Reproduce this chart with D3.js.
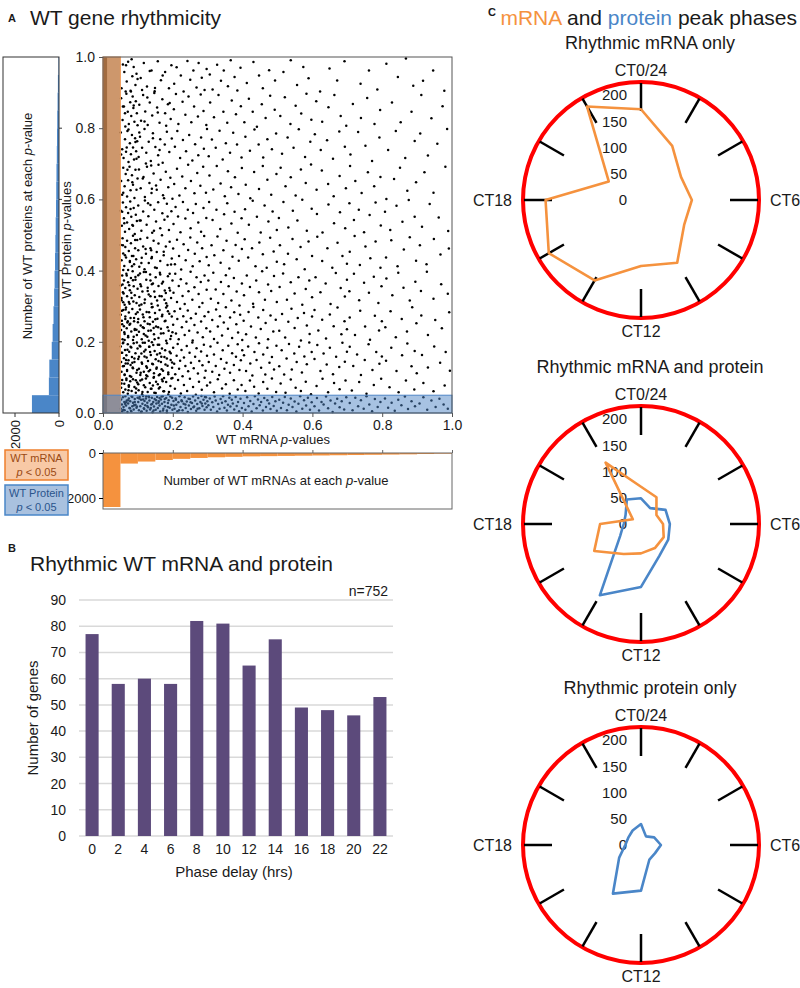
<!DOCTYPE html>
<html><head><meta charset="utf-8">
<script src="https://cdn.jsdelivr.net/npm/d3@7"></script>
<style>
body{margin:0;background:#fff;}
svg text{font-family:"Liberation Sans",Arial,Helvetica,sans-serif;fill:#1a1a1a;}
</style></head><body>
<svg id="c" width="800" height="988"></svg>
<script>
// ---------- DATA ----------
// Panel A scatter: flat pairs (WT mRNA p-value, WT protein p-value) in thousandths
const scatterPairs = [
53,912,61,958,68,931,72,987,79,905,84,946,88,972,93,921,57,979,96,953,65,903,82,994,
108,941,117,983,126,917,139,962,148,904,157,988,166,935,178,958,189,912,196,977,
204,925,211,971,223,948,231,903,242,989,250,936,259,962,268,914,274,983,283,942,291,907,297,966,
306,951,314,909,327,978,338,933,346,962,358,918,366,991,377,944,385,906,394,970,
412,927,431,986,447,948,458,912,476,963,493,934,517,958,538,991,556,921,574,972,589,940,
622,903,649,968,671,934,692,988,738,925,762,962,786,909,812,981,845,944,868,996,889,919,917,933,946,962,978,905,
52,884,56,823,60,861,64,805,67,897,71,846,74,812,78,873,81,834,85,889,87,857,90,818,94,876,97,842,99,808,
104,866,109,821,115,893,121,847,128,809,134,872,141,836,147,899,155,858,162,815,170,881,178,842,186,867,194,826,
203,853,209,896,216,812,228,874,236,838,245,889,253,817,261,861,272,833,280,895,288,848,296,809,
307,872,318,831,331,893,345,846,356,815,369,878,381,839,395,862,405,817,418,883,429,846,441,804,455,867,466,829,479,891,492,852,
508,834,521,887,537,812,552,863,568,841,583,897,597,824,611,876,628,818,646,859,663,893,681,834,697,807,
716,868,739,829,757,885,778,812,794,851,828,872,853,817,884,846,912,893,941,828,973,862,
51,788,55,741,59,716,63,769,66,734,70,792,73,705,77,758,80,727,83,781,86,746,89,712,92,772,95,735,98,763,
102,719,106,776,112,745,119,798,124,731,131,762,137,708,143,786,150,747,158,724,164,769,171,703,177,754,183,790,190,733,197,771,
206,748,213,792,221,716,229,767,238,735,247,781,256,709,264,755,273,724,281,774,289,742,298,798,
303,721,312,768,323,745,334,793,343,712,352,758,364,731,373,787,384,754,397,718,408,776,421,737,434,796,446,754,459,718,471,769,484,741,496,785,
513,728,529,774,546,745,561,797,579,719,594,762,607,783,624,739,642,766,659,714,677,791,693,748,
709,726,731,789,752,751,771,708,792,774,817,739,839,792,866,716,893,764,909,785,931,723,958,756,986,798,
52,652,55,613,58,689,62,637,65,671,69,608,72,654,76,692,79,626,83,668,86,641,90,604,93,683,96,627,99,659,
103,684,108,631,114,659,120,607,126,692,133,646,139,618,145,673,152,639,159,697,165,655,172,612,180,678,187,634,193,661,199,602,
204,643,212,686,219,611,227,664,236,631,244,697,252,652,262,617,270,674,279,638,287,692,295,619,
305,667,316,628,326,694,337,645,349,609,358,679,367,634,378,662,388,615,398,688,409,641,422,603,433,677,447,629,458,694,471,655,482,613,497,671,
509,689,523,637,538,662,552,611,567,684,581,646,596,698,612,627,627,681,645,643,661,609,678,666,696,631,
708,694,723,652,741,618,759,676,777,637,795,663,812,601,834,657,851,689,872,624,897,648,921,676,947,619,981,692,
51,568,54,526,57,591,60,547,63,509,66,578,69,535,72,562,75,517,78,594,81,551,84,528,88,576,91,503,94,557,97,539,
101,583,105,541,110,512,115,566,120,597,125,529,130,553,136,584,141,506,147,571,152,538,158,592,164,519,170,561,176,543,183,588,189,514,196,567,
202,531,208,579,215,552,222,508,229,593,236,546,243,571,251,519,258,562,266,587,273,535,281,509,288,576,296,548,
304,593,314,542,325,571,336,517,347,558,356,589,368,532,377,565,386,506,397,547,407,572,418,529,429,596,441,551,452,507,463,583,474,538,486,566,498,514,
504,548,517,593,531,521,544,568,557,541,571,599,584,512,598,574,613,559,629,507,646,586,662,533,679,564,694,519,
706,589,719,542,733,571,748,508,764,556,781,591,796,527,808,565,823,514,841,582,858,537,876,598,893,551,914,523,936,587,962,549,989,511,
51,472,53,429,56,491,58,448,61,413,64,466,66,437,69,484,72,402,74,455,77,424,80,477,83,441,86,498,89,418,92,463,95,432,98,486,
101,457,104,411,107,489,111,436,115,468,119,404,123,447,127,492,131,421,136,463,140,438,145,484,149,409,154,452,159,476,164,427,169,499,174,443,180,468,185,416,191,481,197,434,
201,462,206,418,212,487,218,441,224,403,231,474,237,429,244,458,250,493,257,412,263,447,270,479,277,426,284,463,290,497,297,438,
303,415,311,471,319,443,328,496,337,422,345,457,354,484,362,406,371,439,380,472,389,428,398,461,
406,488,416,437,427,463,437,412,448,479,458,446,469,408,479,492,489,454,498,425,
507,471,519,418,530,447,543,489,555,432,566,466,578,404,589,482,599,441,614,495,628,427,643,463,657,408,672,478,686,441,699,419,
707,453,721,497,736,416,752,468,766,435,781,482,795,408,811,437,826,485,844,412,862,459,879,494,897,428,908,471,927,418,948,489,967,445,991,462,
51,358,53,317,55,386,57,339,60,372,62,304,64,351,67,391,69,328,72,367,74,312,77,345,80,379,82,323,85,398,88,356,91,331,93,374,96,309,99,349,
101,387,104,326,107,362,110,305,113,341,117,396,120,319,124,374,128,352,131,333,135,389,139,307,143,364,147,341,151,381,155,316,159,357,163,394,168,328,172,369,177,344,181,308,186,384,190,351,195,323,199,372,
202,338,207,391,212,312,217,357,223,376,228,329,234,306,239,364,245,342,251,397,256,318,262,353,268,381,274,334,280,368,285,309,291,386,297,346,
302,372,309,321,316,394,323,347,330,309,338,368,345,334,352,387,360,356,368,316,375,379,383,341,391,302,398,364,
404,331,412,386,421,354,430,307,439,372,447,339,456,398,464,318,473,361,482,343,490,385,498,312,
506,354,516,392,527,318,538,367,549,336,560,381,571,304,581,348,591,372,599,325,609,381,623,339,638,364,652,306,667,393,681,351,693,327,699,374,
706,342,719,391,734,317,748,366,762,338,776,383,789,309,798,356,812,378,829,331,846,394,861,352,879,316,895,369,911,343,928,397,947,321,969,362,988,335,
51,276,52,233,54,259,56,207,58,289,60,244,62,222,64,271,66,296,68,238,70,254,72,213,74,282,76,248,79,267,81,229,84,292,86,205,89,258,91,236,94,278,97,219,
101,264,103,228,106,291,108,246,111,207,114,277,117,239,119,258,122,218,125,284,128,251,131,203,134,269,137,232,140,297,143,256,146,221,149,281,152,243,156,265,159,211,162,289,166,237,169,272,173,224,177,258,181,296,185,241,190,279,195,216,
201,248,205,286,209,223,213,264,217,207,221,293,226,241,230,272,234,219,239,256,243,288,247,231,252,266,257,204,262,247,266,279,271,226,276,298,281,257,286,213,291,272,296,238,
302,284,307,229,313,261,318,208,324,291,329,243,335,272,341,218,346,254,352,297,358,237,364,268,370,211,376,283,382,249,387,226,393,276,399,205,
403,259,410,221,417,284,424,243,431,298,438,212,445,268,452,236,459,289,466,253,473,207,480,274,488,229,495,262,
505,231,513,278,522,212,531,256,540,293,549,239,558,267,567,204,576,281,584,246,592,222,599,271,
606,289,617,232,628,262,639,209,650,277,661,244,672,296,683,221,692,258,699,235,
707,268,722,219,737,287,751,243,765,206,779,273,791,232,799,258,809,241,824,286,839,213,856,264,871,229,886,297,898,252,912,274,931,219,952,261,971,238,992,283,
51,187,52,143,53,116,55,169,57,131,58,198,60,154,62,108,63,177,65,139,67,162,69,121,71,193,73,148,75,172,77,104,79,135,81,184,83,157,86,126,88,196,90,143,93,168,96,113,99,181,
101,152,103,124,105,189,107,107,110,167,112,138,114,197,117,116,119,159,122,178,124,131,127,103,129,146,132,186,135,121,137,163,140,199,143,137,146,112,148,174,151,151,154,128,157,192,160,106,163,168,166,143,169,181,172,119,176,157,179,136,183,196,187,114,191,172,194,149,198,127,
201,183,204,138,207,109,211,161,214,194,218,124,221,147,225,177,228,103,232,156,236,132,240,188,244,117,248,169,252,141,256,198,260,126,264,158,268,182,272,111,276,146,281,173,285,134,289,192,294,119,298,161,
303,143,308,187,313,116,318,164,323,132,328,197,333,107,338,152,343,176,348,124,354,141,359,189,364,113,370,168,375,135,381,158,386,193,391,121,395,148,399,176,
404,162,410,118,416,187,422,139,428,105,434,171,440,149,447,196,453,127,459,164,465,108,471,183,477,141,484,157,490,122,497,189,
505,131,512,176,519,108,526,153,533,194,541,122,548,167,555,143,562,186,570,114,577,159,584,137,591,198,598,171,
606,152,614,191,623,118,632,167,641,136,650,183,659,109,668,158,677,129,686,197,693,144,699,172,
707,186,717,132,728,164,739,107,750,149,761,193,772,121,783,171,792,138,799,159,811,147,826,183,841,118,857,162,872,195,884,131,893,174,899,112,
914,163,931,128,949,187,966,141,982,171,994,119,
52,71,55,93,58,58,61,82,64,66,67,97,71,54,74,78,78,89,82,62,86,95,90,73,94,57,98,86,
102,64,107,91,112,53,117,78,123,97,128,59,134,84,139,68,145,99,151,56,157,81,163,72,169,94,175,61,181,87,187,52,193,76,199,98,
206,68,215,93,223,55,232,79,241,62,249,96,258,73,266,51,275,88,283,65,291,99,298,77,
307,86,318,58,329,95,341,69,352,81,363,54,375,92,386,66,397,79,408,62,421,91,433,74,446,55,459,87,471,68,484,97,496,59,
509,83,523,57,538,94,552,71,567,62,581,88,596,53,612,76,629,96,645,58,662,84,678,67,695,91,
713,63,734,87,755,54,776,79,797,96,821,72,847,58,868,91,892,66,918,84,947,61,979,77,
51,12,52,38,54,24,55,5,57,44,59,17,61,31,62,8,64,47,66,21,68,35,70,3,72,27,74,41,76,14,78,33,80,6,82,46,84,19,86,29,88,10,91,39,93,23,96,15,99,43,
101,31,103,8,105,45,107,19,109,37,111,4,113,26,115,48,117,13,119,34,121,22,123,41,125,6,127,29,129,16,131,47,133,35,135,10,138,24,140,43,142,2,144,31,146,18,148,39,151,9,153,27,155,45,157,14,160,33,162,21,164,4,166,38,169,26,171,47,173,12,176,31,178,19,181,42,183,7,186,28,188,36,191,15,193,46,196,23,199,9,
202,34,205,12,208,41,210,23,213,5,216,30,219,47,222,17,225,36,228,8,231,26,234,44,237,14,240,32,243,3,246,21,249,39,252,11,255,28,258,46,261,18,264,35,267,6,270,25,273,42,276,13,279,31,282,48,285,20,288,37,291,9,293,27,295,44,297,16,299,33,
302,22,306,41,309,9,313,30,316,17,320,46,323,35,327,4,330,25,334,12,337,39,341,29,344,47,348,15,351,33,355,7,358,23,362,43,365,18,369,37,372,27,376,10,380,45,383,20,387,31,390,5,394,40,398,14,
404,28,408,9,413,44,417,19,422,34,426,4,431,25,435,47,440,13,444,38,449,22,453,31,458,7,462,42,467,17,471,36,476,27,480,11,485,45,489,20,494,33,498,6,
505,37,510,14,516,29,521,45,527,8,532,23,538,41,543,17,549,32,554,4,560,26,565,47,571,12,576,36,582,21,587,43,593,9,598,30,
606,19,613,42,619,7,626,31,632,24,639,46,645,13,652,35,658,3,665,27,671,40,678,16,684,33,691,10,697,44,
707,28,715,8,723,43,731,19,739,36,747,12,755,47,763,24,771,5,779,39,787,17,795,31,
808,41,817,15,827,29,836,6,846,37,855,22,865,46,874,11,884,33,894,19,
907,27,918,44,929,9,941,35,953,17,964,40,976,24,988,12
];
// extra points in the densest part of the cloud (low mRNA p-values)
const scatterPairsDense = [
58,402,143,77,91,233,176,318,66,149,122,461,187,109,54,287,109,356,161,192,73,64,134,249,98,121,195,417,81,338,152,88,62,205,118,173,170,276,87,441,
141,138,56,361,127,214,183,153,95,69,164,389,71,258,112,94,149,326,199,227,79,186,131,117,57,471,173,61,104,302,158,241,85,128,192,344,67,93,139,435,
116,269,52,169,181,203,93,382,147,57,76,307,125,156,168,123,61,227,136,372,101,81,186,286,83,412,155,164,69,118,114,241,196,97,89,267,142,298,59,336,
121,72,174,453,97,198,163,109,75,359,133,186,188,231,53,83,110,421,150,263,84,141,178,176,65,291,128,343,103,158,191,391,72,216,146,101,119,309,60,132,
166,223,92,486,137,68,185,133,78,251,107,187,154,407,55,249,124,106,197,271,87,313,159,146,70,178,140,362,113,59,180,337,96,234,63,443,132,283,171,89,
81,102,148,207,106,392,194,168,58,311,126,127,162,329,90,153,138,457,74,74,179,259,117,222,153,124,68,386,99,283,189,59,135,171,57,196,169,364,108,113,
145,239,86,373,175,98,64,264,120,197,157,302,94,92,198,142,77,427,130,231,167,158,53,323,111,142,184,301,100,255,144,191,71,139,160,69,123,396,88,214,
193,208,62,107,136,328,
63,26,118,11,177,39,84,45,145,7,226,33,97,18,159,29,271,12,72,36,132,44,203,21,109,3,186,17,245,40,58,9,152,36,283,27,91,31,168,46,
218,8,127,20,77,13,198,43,141,25,259,16,104,41,183,2,66,30,236,24,115,38,172,7,89,22,292,45,137,14,209,37,81,5,162,42,251,30,124,47,
61,533,112,907,84,648,143,772,57,861,129,589,96,714,171,948,73,796,154,627,108,541,66,977,138,695,88,864,185,552,52,726,119,819,79,573,162,739,99,938,
146,512,70,683,127,886,58,619,181,807,93,761,134,961,63,842,116,663,175,603,86,526,149,913,104,788,68,746,191,871,80,903,123,701,157,844,55,565,140,630
];
const pBinStarts = [0,0.05,0.1,0.15,0.2,0.25,0.3,0.35,0.4,0.45,0.5,0.55,0.6,0.65,0.7,0.75,0.8,0.85,0.9,0.95];
const proteinHistCounts = [1230,460,440,330,290,250,220,200,180,165,150,135,125,115,100,90,80,65,50,25];
const mrnaHistCounts = [2400,470,380,310,260,220,190,170,150,140,130,120,110,100,90,80,70,60,45,30];
const scatterTicks = [0,0.2,0.4,0.6,0.8,1.0];
const histTicks = [0,2000];

// Panel B
const phaseDelays = [0,2,4,6,8,10,12,14,16,18,20,22];
const phaseCounts = [77,58,60,58,82,81,65,75,49,48,46,53];
const barTicks = [0,10,20,30,40,50,60,70,80,90];

// Panel C (peak phase counts at CT0,2,...,22)
const ctHours = [0,2,4,6,8,10,12,14,16,18,20,22];
const mrnaOnly = [173,119,88,97,95,138,126,177,203,182,71,206];
const bothMrna = [71,59,34,42,50,53,56,66,103,78,18,135];
const bothProtein = [49,35,54,55,60,70,120,157,46,33,34,54];
const proteinOnly = [40,19,29,38,31,32,87,107,48,30,28,32];
const radialTicks = [0,50,100,150,200];

// ---------- DRAW ----------
const svg = d3.select("#c");
const ORANGE = "#f5923e", BLUE = "#4a86c8";

// ===== Panel A =====
svg.append("text").attr("x",8).attr("y",22).attr("font-size",11).attr("font-weight","bold").text("A");
svg.append("text").attr("x",30).attr("y",25).attr("font-size",21).text("WT gene rhythmicity");

const sx = d3.scaleLinear().domain([0,1]).range([103,452]);
const sy = d3.scaleLinear().domain([0,1]).range([413,57]);
const A = svg.append("g");

const pts = [];
[scatterPairs, scatterPairsDense].forEach(arr=>{
  for (let i=0;i<arr.length;i+=2) pts.push([arr[i]/1000, arr[i+1]/1000]);
});
A.append("g").selectAll("circle").data(pts).join("circle")
  .attr("cx",d=>sx(d[0])).attr("cy",d=>sy(d[1])).attr("r",1.25).attr("fill","#000");

// dense region in mRNA p<0.05 band
A.append("rect").attr("x",sx(0)).attr("y",sy(1)).attr("width",sx(0.012)-sx(0)).attr("height",sy(0)-sy(1))
  .attr("fill","#000").attr("opacity",0.85);
A.append("rect").attr("x",sx(0.012)).attr("y",sy(1)).attr("width",sx(0.05)-sx(0.012)).attr("height",sy(0)-sy(1))
  .attr("fill","#000").attr("opacity",0.42);
// overlays
A.append("rect").attr("x",sx(0)).attr("y",sy(1)).attr("width",sx(0.05)-sx(0)).attr("height",sy(0)-sy(1))
  .attr("fill","#f39a52").attr("fill-opacity",0.6).attr("stroke","#f3a060").attr("stroke-width",1);
A.append("rect").attr("x",sx(0)).attr("y",sy(0.05)).attr("width",sx(1)-sx(0)).attr("height",sy(0)-sy(0.05))
  .attr("fill","#4f86c6").attr("fill-opacity",0.5).attr("stroke","#4f86c6").attr("stroke-width",1);
// frame
A.append("rect").attr("x",sx(0)).attr("y",sy(1)).attr("width",sx(1)-sx(0)).attr("height",sy(0)-sy(1))
  .attr("fill","none").attr("stroke","#555").attr("stroke-width",1);

const yAx = A.append("g").attr("transform",`translate(${sx(0)},0)`)
  .call(d3.axisLeft(sy).tickValues(scatterTicks).tickFormat(d3.format(".1f")).tickSize(4).tickPadding(4));
const xAx = A.append("g").attr("transform",`translate(0,${sy(0)})`)
  .call(d3.axisBottom(sx).tickValues(scatterTicks).tickFormat(d3.format(".1f")).tickSize(4).tickPadding(3));
[yAx,xAx].forEach(g=>{g.select(".domain").remove(); g.selectAll("text").attr("font-size",14).attr("fill","#222"); g.selectAll("line").attr("stroke","#555");});

const xl = A.append("text").attr("x",273).attr("y",444).attr("text-anchor","middle").attr("font-size",13);
xl.append("tspan").text("WT mRNA  ");
xl.append("tspan").attr("font-style","italic").text("p");
xl.append("tspan").text("-values");
const yl = A.append("text").attr("transform","translate(71,240) rotate(-90)").attr("text-anchor","middle").attr("font-size",13);
yl.append("tspan").text("WT Protein ");
yl.append("tspan").attr("font-style","italic").text("p");
yl.append("tspan").text("-values");

// left histogram (protein)
const hx = d3.scaleLinear().domain([0,2000]).range([59,15]);
A.append("g").selectAll("rect").data(proteinHistCounts).join("rect")
  .attr("x",d=>hx(d)).attr("width",d=>hx(0)-hx(d))
  .attr("y",(d,i)=>sy(pBinStarts[i]+0.05)).attr("height",(d,i)=>sy(pBinStarts[i])-sy(pBinStarts[i]+0.05))
  .attr("fill",BLUE);
A.append("rect").attr("x",3).attr("y",sy(1)).attr("width",hx(0)-3).attr("height",sy(0)-sy(1))
  .attr("fill","none").attr("stroke","#333").attr("stroke-width",1);
A.append("g").selectAll("line").data(histTicks).join("line")
  .attr("x1",d=>hx(d)).attr("x2",d=>hx(d)).attr("y1",sy(0)).attr("y2",sy(0)+4).attr("stroke","#333");
A.append("g").selectAll("text").data(histTicks).join("text")
  .attr("transform",d=>`translate(${hx(d)+5},${sy(0)+7}) rotate(-90)`)
  .attr("text-anchor","end").attr("font-size",13).text(d=>d);
A.append("g").selectAll("line.rt").data(scatterTicks.slice(1,5)).join("line")
  .attr("x1",hx(0)).attr("x2",hx(0)+3).attr("y1",d=>sy(d)).attr("y2",d=>sy(d)).attr("stroke","#333");
const hl = A.append("text").attr("transform","translate(32,226) rotate(-90)").attr("text-anchor","middle").attr("font-size",13);
hl.append("tspan").text("Number of WT proteins at each ");
hl.append("tspan").attr("font-style","italic").text("p");
hl.append("tspan").text("-value");

// bottom histogram (mRNA)
const hy = d3.scaleLinear().domain([0,2000]).range([453,498]);
A.append("g").selectAll("rect").data(mrnaHistCounts).join("rect")
  .attr("x",(d,i)=>sx(pBinStarts[i])).attr("width",(d,i)=>sx(pBinStarts[i]+0.05)-sx(pBinStarts[i]))
  .attr("y",hy(0)).attr("height",d=>hy(d)-hy(0)).attr("fill",ORANGE);
A.append("rect").attr("x",sx(0)).attr("y",hy(0)).attr("width",sx(1)-sx(0)).attr("height",509-hy(0))
  .attr("fill","none").attr("stroke","#666").attr("stroke-width",1);
const hyAx = A.append("g").attr("transform",`translate(${sx(0)},0)`)
  .call(d3.axisLeft(hy).tickValues(histTicks).tickFormat(d3.format("d")).tickSize(4).tickPadding(3));
hyAx.select(".domain").remove(); hyAx.selectAll("text").attr("font-size",13).attr("fill","#222");
const htAx = A.append("g").attr("transform",`translate(0,${hy(0)})`)
  .call(d3.axisTop(sx).tickValues(scatterTicks).tickSize(3).tickFormat(""));
htAx.select(".domain").remove(); htAx.selectAll("line").attr("stroke","#666");
const bl = A.append("text").attr("x",276).attr("y",485).attr("text-anchor","middle").attr("font-size",13);
bl.append("tspan").text("Number of WT mRNAs at each ");
bl.append("tspan").attr("font-style","italic").text("p");
bl.append("tspan").text("-value");

// legend boxes
function legendBox(y, fill, stroke, color, label){
  A.append("rect").attr("x",5).attr("y",y).attr("width",63).attr("height",30)
   .attr("fill",fill).attr("stroke",stroke).attr("stroke-width",1.5);
  A.append("text").attr("x",36.5).attr("y",y+12).attr("text-anchor","middle").attr("font-size",11)
   .style("fill",color).text(label);
  const t = A.append("text").attr("x",36.5).attr("y",y+26).attr("text-anchor","middle").attr("font-size",11).style("fill",color);
  t.append("tspan").attr("font-style","italic").text("p");
  t.append("tspan").text(" < 0.05");
}
legendBox(450, "#f8c9a6", "#ee7f2d", "#9a4a14", "WT mRNA");
legendBox(485, "#a9c1df", "#4a86c8", "#2a548c", "WT Protein");

// ===== Panel B =====
svg.append("text").attr("x",8).attr("y",552).attr("font-size",11).attr("font-weight","bold").text("B");
svg.append("text").attr("x",30).attr("y",571).attr("font-size",21).text("Rhythmic WT mRNA and protein");
const bx = d3.scaleBand().domain(phaseDelays).range([79,393]).paddingInner(0.5).paddingOuter(0.25);
const by = d3.scaleLinear().domain([0,90]).range([836,600]);
const B = svg.append("g");
B.append("g").selectAll("line").data(barTicks).join("line")
  .attr("x1",79).attr("x2",393).attr("y1",d=>by(d)).attr("y2",d=>by(d))
  .attr("stroke","#d9d9d9").attr("stroke-width",1.5);
B.append("g").selectAll("rect").data(phaseCounts).join("rect")
  .attr("x",(d,i)=>bx(phaseDelays[i])).attr("width",bx.bandwidth())
  .attr("y",d=>by(d)).attr("height",d=>by(0)-by(d)).attr("fill","#5c4a7b");
const byAx = B.append("g").attr("transform","translate(79,0)").call(d3.axisLeft(by).tickValues(barTicks).tickSize(0).tickPadding(13));
const bxAx = B.append("g").attr("transform","translate(0,836)").call(d3.axisBottom(bx).tickSize(0).tickPadding(8));
[byAx,bxAx].forEach(g=>{g.select(".domain").remove(); g.selectAll("text").attr("font-size",14).attr("fill","#222");});
B.append("text").attr("transform","translate(38,718) rotate(-90)").attr("text-anchor","middle").attr("font-size",15).text("Number of genes");
B.append("text").attr("x",234).attr("y",877).attr("text-anchor","middle").attr("font-size",15).text("Phase delay (hrs)");
B.append("text").attr("x",388).attr("y",596).attr("text-anchor","end").attr("font-size",14).text("n=752");

// ===== Panel C =====
svg.append("text").attr("x",488).attr("y",16).attr("font-size",11).attr("font-weight","bold").text("C");
const ct = svg.append("text").attr("x",797).attr("y",25).attr("text-anchor","end").attr("font-size",21);
ct.append("tspan").style("fill",ORANGE).text("mRNA");
ct.append("tspan").text(" and ");
ct.append("tspan").style("fill",BLUE).text("protein");
ct.append("tspan").text(" peak phases");

const rs = d3.scaleLinear().domain([0,225]).range([0,118]);
const ang = d3.scaleLinear().domain([0,24]).range([0,2*Math.PI]);
const radar = d3.lineRadial().angle((d,i)=>ang(ctHours[i])).radius(d=>rs(d)).curve(d3.curveLinearClosed);

function polar(cy, title, series){
  const cx = 641;
  const g = svg.append("g").attr("transform",`translate(${cx},${cy})`);
  svg.append("text").attr("x",650).attr("y",cy-151).attr("text-anchor","middle").attr("font-size",18).text(title);
  g.append("circle").attr("r",rs(225)).attr("fill","#fff").attr("stroke","#ff0000").attr("stroke-width",4);
  g.append("g").selectAll("line").data(ctHours).join("line")
    .attr("x1",d=>Math.sin(ang(d))*89).attr("y1",d=>-Math.cos(ang(d))*89)
    .attr("x2",d=>Math.sin(ang(d))*117).attr("y2",d=>-Math.cos(ang(d))*117)
    .attr("stroke","#000").attr("stroke-width",2.5);
  g.append("g").selectAll("text").data(radialTicks).join("text")
    .attr("x",-14).attr("y",d=>-rs(d)).attr("dy","0.35em").attr("text-anchor","end").attr("font-size",15).text(d=>d);
  series.forEach(s=>{
    g.append("path").attr("d",radar(s.values)).attr("fill","none").attr("stroke",s.color).attr("stroke-width",2.6).attr("stroke-linejoin","round");
  });
  g.append("text").attr("x",0).attr("y",-130).attr("dy","0.35em").attr("text-anchor","middle").attr("font-size",16).text("CT0/24");
  g.append("text").attr("x",129).attr("y",0).attr("dy","0.35em").attr("text-anchor","start").attr("font-size",16).text("CT6");
  g.append("text").attr("x",0).attr("y",131).attr("dy","0.35em").attr("text-anchor","middle").attr("font-size",16).text("CT12");
  g.append("text").attr("x",-129).attr("y",0).attr("dy","0.35em").attr("text-anchor","end").attr("font-size",16).text("CT18");
}
polar(200, "Rhythmic mRNA only", [{values:mrnaOnly,color:ORANGE}]);
polar(524, "Rhythmic mRNA and protein", [{values:bothProtein,color:BLUE},{values:bothMrna,color:ORANGE}]);
polar(845, "Rhythmic protein only", [{values:proteinOnly,color:BLUE}]);
</script>
</body></html>
